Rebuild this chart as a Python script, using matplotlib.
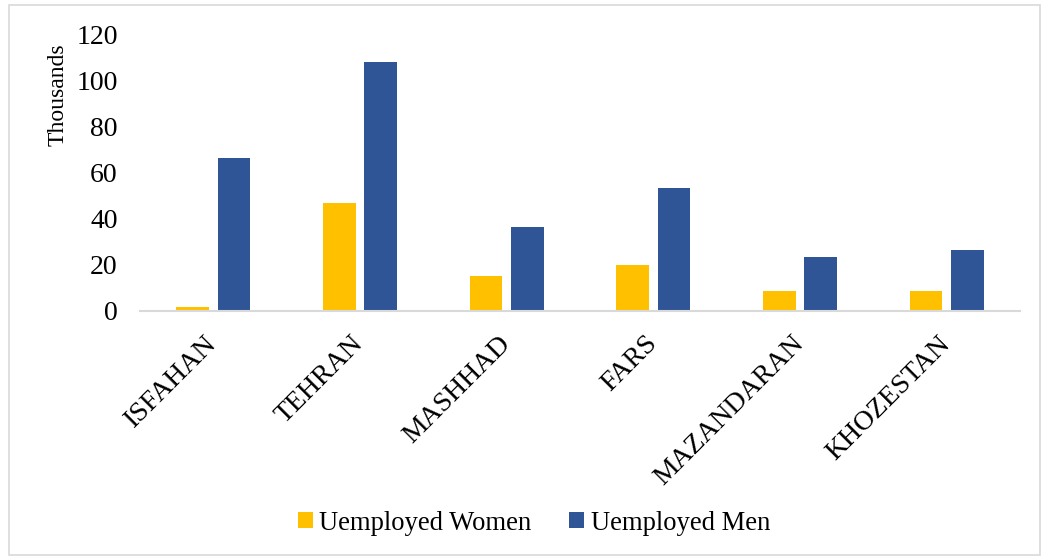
import matplotlib
matplotlib.use("Agg")
import matplotlib.pyplot as plt
import matplotlib.transforms as mtransforms
import numpy as np
from matplotlib.patches import Rectangle

categories = ["ISFAHAN", "TEHRAN", "MASHHAD", "FARS", "MAZANDARAN", "KHOZESTAN"]
women = [1.7, 46.8, 15.2, 20.0, 8.7, 8.8]
men = [66.5, 108.3, 36.4, 53.3, 23.5, 26.7]
yticks = [0, 20, 40, 60, 80, 100, 120]

plt.rcParams['font.family'] = ['Liberation Serif', 'DejaVu Serif']

W, H = 1044, 559
fig = plt.figure(figsize=(W / 100, H / 100), dpi=100)
ax = fig.add_axes([140 / W, 1 - 311 / H, 880 / W, (311 - 35) / H])

x = np.arange(len(categories))
bw = 0.222
gap = 0.06
ax.bar(x - (bw + gap) / 2, women, width=bw, color="#FFC000", label="Uemployed Women")
ax.bar(x + (bw + gap) / 2, men, width=bw, color="#2F5597", label="Uemployed Men")

ax.set_xlim(-0.5, len(categories) - 0.5)
ax.set_ylim(0, 120)
ax.set_yticks(yticks)
ax.set_yticklabels([str(v) for v in yticks], fontsize=20)
ax.set_xticks(x)
ax.set_xticklabels(categories, rotation=45, ha="right", rotation_mode="anchor", fontsize=20)
ax.tick_params(axis="both", length=0)
ax.tick_params(axis="y", pad=16)
ax.tick_params(axis="x", pad=16)
offset = mtransforms.ScaledTranslation(-9 / 100, 2 / 100, fig.dpi_scale_trans)
for lab in ax.get_xticklabels():
    lab.set_transform(lab.get_transform() + offset)
for s in ["top", "right", "left"]:
    ax.spines[s].set_visible(False)
ax.spines["bottom"].set_color("#D9D9D9")
ax.spines["bottom"].set_linewidth(1.5)
ax.set_ylabel("Thousands", fontsize=17)
ax.yaxis.set_label_coords(-71 / 880, (311 - 95) / 276)

leg = fig.legend(loc="center", bbox_to_anchor=(534 / W, 1 - 523 / H), ncol=2, frameon=False,
                 fontsize=19.2, handlelength=0.55, handleheight=0.55, columnspacing=1.42, handletextpad=0.25)

fig.patches.append(Rectangle((9 / W, 4 / H), 1 - 13 / W, 1 - 9 / H, transform=fig.transFigure,
                             fill=False, edgecolor="#D9D9D9", linewidth=1.2))

fig.savefig("out.png", dpi=100)
